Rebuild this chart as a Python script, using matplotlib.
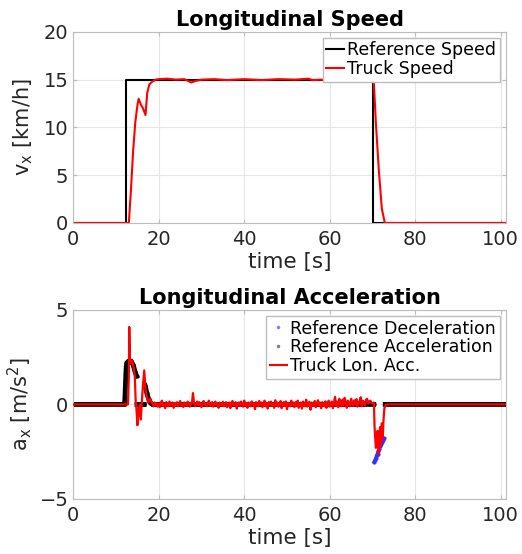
import numpy as np
import matplotlib
matplotlib.use("Agg")
import matplotlib.pyplot as plt
from matplotlib.lines import Line2D

# ---- speed data ----
ref_speed_t = [0, 12.3, 12.3, 70.2, 70.2, 101]
ref_speed_v = [0, 0, 15, 15, 0, 0]

truck_speed_t = [0, 13.0, 13.5, 14.0, 14.5, 15.0, 15.3, 15.8, 16.3, 16.9, 17.3, 17.8, 18.5, 19.3, 20.0,
                 22, 24, 26, 27.6, 28.5, 30, 33, 36, 40, 44, 48, 52, 55, 56, 58, 60, 64, 68, 70.3,
                 70.8, 71.5, 72.2, 72.9, 101]
truck_speed_v = [0, 0, 3.5, 7.5, 10.5, 12.3, 13.0, 12.4, 12.0, 11.3, 13.6, 14.5, 14.8, 15.0, 15.05,
                 15.1, 15.0, 15.05, 14.7, 14.85, 15.0, 15.05, 14.95, 15.05, 14.95, 15.05, 15.0, 15.1, 14.95,
                 15.0, 14.95, 15.05, 15.0, 15.0, 10.5, 5.5, 1.5, 0, 0]

# ---- acceleration data ----
ref_acc_t = [0, 12.0, 12.1, 12.2, 12.3, 12.4, 12.5, 13.0, 13.5, 14.0, 14.5, 14.8, np.nan,
             14.9, 16.6, np.nan, 16.8, 17.2, 17.6, 18.0, 18.5, 70.3, np.nan, 73.0, 101]
ref_acc_v = [0, 0, 0.4, 1.0, 1.6, 2.0, 2.2, 2.3, 2.3, 2.1, 1.7, 1.5, np.nan,
             0, 0, np.nan, 1.0, 0.6, 0.3, 0.1, 0, 0, np.nan, 0, 0]

ref_dec_t = [70.4, 70.6, 70.8, 71.0, 71.2, 71.4, 71.6, 71.8, 72.0, 72.2, 72.4, 72.6]
ref_dec_v = [-3.05, -2.95, -2.85, -2.7, -2.6, -2.45, -2.35, -2.2, -2.1, -2.0, -1.9, -1.8]

truck_acc_start_t = [0, 12.8, 13.0, 13.1, 13.25, 13.5, 13.8, 14.1, 14.4, 14.6, 14.8, 15.0, 15.2,
                     15.4, 15.6, 15.8, 16.0, 16.3, 16.6, 16.9, 17.2, 17.5, 17.8]
truck_acc_start_v = [0, 0, 1.5, 4.1, 2.4, 2.2, 2.3, 2.0, 1.5, 0.2, -0.3, -1.1, -0.2,
                     -0.6, 0.0, -0.8, 0.0, 1.0, 1.8, 0.8, 0.4, 0.1, 0.2]

# 0.25 s samples from t = 18 s
truck_acc_noise = [
    0.3, 0.15, 0.05, -0.1, 0.1, -0.05, 0.08, -0.12,
    0.05, -0.15, 0.1, 0.2, -0.08, 0.02, -0.2, 0.12, 0.05, -0.1, 0.15, -0.05, 0.0, 0.1, -0.18, 0.08,
    -0.02, 0.12, -0.1, 0.05, 0.18, -0.06, 0.03, -0.14, 0.1, 0.0, -0.08, 0.15, 0.05, -0.12, 0.08, 0.02,
    0.6, 0.1, -0.1, 0.05, 0.15, -0.05, 0.12, 0.0, -0.15, 0.08, 0.18, -0.02, 0.05, -0.1, 0.1, 0.2,
    -0.08, 0.0, 0.12, -0.12, 0.05, 0.15, -0.05, 0.08, -0.18, 0.1, 0.02, -0.06, 0.14, -0.1, 0.04, 0.12,
    -0.15, 0.05, 0.1, -0.2, 0.08, 0.18, -0.05, 0.0, 0.12, -0.22, 0.06, 0.1, -0.08, 0.15, 0.02, -0.12,
    0.2, -0.05, 0.08, -0.18, 0.1, 0.05, -0.1, 0.16, -0.02, 0.06, -0.25, 0.12, 0.04, -0.1, 0.18, -0.06,
    0.1, -0.15, 0.05, 0.2, -0.1, 0.08, -0.22, 0.12, 0.0, 0.15, -0.08, 0.05, -0.18, 0.22, -0.05, 0.1,
    -0.12, 0.06, 0.18, -0.2, 0.04, 0.12, -0.08, 0.16, -0.25, 0.08, 0.02, -0.1, 0.2, -0.04, 0.1, -0.15,
    0.12, -0.06, 0.2, -0.18, 0.05, 0.1, -0.22, 0.15, 0.0, -0.1, 0.25, -0.12, 0.06, 0.14, -0.28, 0.1,
    0.02, -0.08, 0.18, -0.15, 0.05, 0.22, -0.06, 0.1, -0.2, 0.12, 0.04, -0.1, 0.16, -0.18, 0.08, 0.2,
    -0.12, 0.05, 0.15, -0.2, 0.1, 0.4, -0.08, 0.15, -0.15, 0.3, 0.05, -0.1, 0.25, -0.05, 0.35, 0.1,
    -0.18, 0.2, 0.05, -0.1, 0.3, 0.12, -0.08, 0.22, 0.0, 0.28, -0.12, 0.15, 0.05, 0.38, -0.1, 0.2,
    0.1, -0.05, 0.25, 0.3, 0.05, 0.15, 0.2, 0.1, 0.05,
]

truck_acc_end_t = [70.35, 70.5, 70.8, 71.0, 71.2, 71.4, 71.6, 71.8, 72.0, 72.2, 72.4, 72.6, 72.8, 73.2, 101]
truck_acc_end_v = [0.1, -1.2, -2.3, -2.0, -1.4, -2.6, -1.8, -1.2, -2.2, -1.0, -1.8, -0.8, -0.2, 0, 0]

noise_t = 18 + 0.25 * np.arange(len(truck_acc_noise))
truck_acc_t = np.concatenate([truck_acc_start_t, noise_t, truck_acc_end_t])
truck_acc_v = np.concatenate([truck_acc_start_v, truck_acc_noise, truck_acc_end_v])

xticks = [0, 20, 40, 60, 80, 100]

plt.rcParams['font.family'] = 'DejaVu Sans'
plt.rcParams['mathtext.default'] = 'regular'

fig = plt.figure(figsize=(5.22, 5.54), dpi=100)
ax1 = fig.add_axes([0.1404, 0.5975, 0.8285, 0.345])
ax2 = fig.add_axes([0.1404, 0.0995, 0.8285, 0.341])

txt_col = '#262626'
for ax in (ax1, ax2):
    ax.set_xlim(0, 101.2)
    ax.set_xticks(xticks)
    ax.grid(True, color='#e6e6e6', linewidth=0.8)
    ax.set_axisbelow(True)
    ax.tick_params(direction='in', top=True, right=True, labelsize=14,
                   colors='#bdbdbd', labelcolor=txt_col, length=3)
    ax.tick_params(axis='x', pad=5)
    for s in ax.spines.values():
        s.set_color('#bdbdbd')
    ax.set_xlabel('time [s]', fontsize=15.5, color=txt_col, labelpad=2)

# speed plot
ax1.plot(ref_speed_t, ref_speed_v, color='k', lw=1.5, label='Reference Speed')
ax1.plot(truck_speed_t, truck_speed_v, color='#ff0000', lw=1.5, label='Truck Speed')
ax1.set_ylim(0, 20)
ax1.set_yticks([0, 5, 10, 15, 20])
ax1.set_ylabel('v$_x$ [km/h]', fontsize=15, color=txt_col, labelpad=6)
ax1.set_title('Longitudinal Speed', fontsize=15, fontweight='bold', pad=4)
leg1 = ax1.legend(loc='upper right', fontsize=12.5, handlelength=1.0, handletextpad=0.2,
                  borderpad=0.2, labelspacing=0.05, fancybox=False, framealpha=1,
                  borderaxespad=0.35)
leg1.get_frame().set_edgecolor('#bdbdbd')

# acceleration plot
ax2.plot(ref_acc_t, ref_acc_v, color='k', lw=3.5, zorder=2)
ax2.plot(ref_acc_t, ref_acc_v, '.', color='k', ms=4, zorder=2)
ax2.plot(ref_dec_t, ref_dec_v, color='#3333ff', lw=2.5, marker='.', ms=4, zorder=2)
ax2.plot(truck_acc_t, truck_acc_v, color='#ff0000', lw=1.6, zorder=3)
ax2.set_ylim(-5, 5)
ax2.set_yticks([-5, 0, 5])
ax2.set_ylabel('a$_x$ [m/s$^2$]', fontsize=15, color=txt_col, labelpad=4)
ax2.set_title('Longitudinal Acceleration', fontsize=15, fontweight='bold', pad=4)

handles = [
    Line2D([], [], linestyle='none', marker='.', color='#8080ff', ms=3),
    Line2D([], [], linestyle='none', marker='.', color='#808080', ms=3),
    Line2D([], [], color='#ff0000', lw=1.5),
]
labels = ['Reference Deceleration', 'Reference Acceleration', 'Truck Lon. Acc.']
leg2 = ax2.legend(handles, labels, loc='upper right', fontsize=12.5, handlelength=1.0,
                  handletextpad=0.2, borderpad=0.2, labelspacing=0.05, fancybox=False,
                  framealpha=1, borderaxespad=0.35)
leg2.get_frame().set_edgecolor('#bdbdbd')

fig.savefig('out.png', dpi=100)
